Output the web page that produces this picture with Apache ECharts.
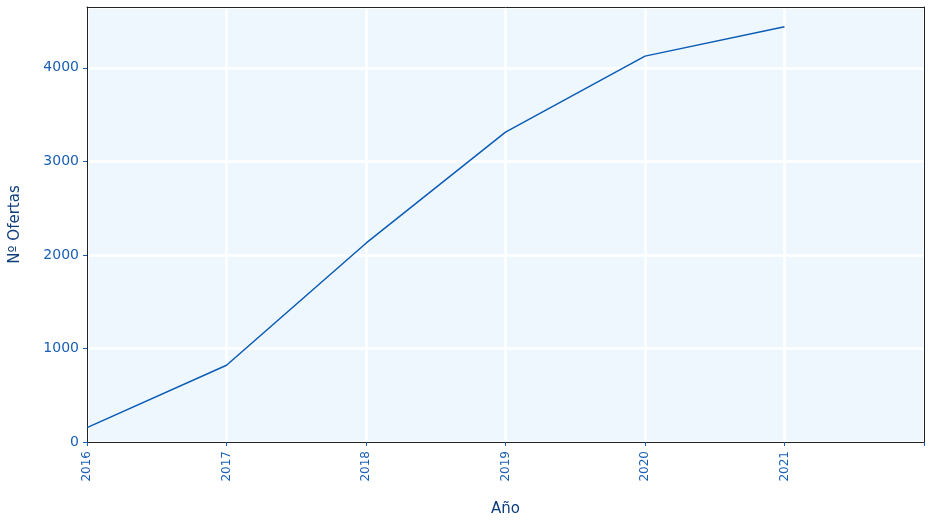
<!DOCTYPE html>
<html>
<head>
<meta charset="utf-8">
<script src="https://cdn.jsdelivr.net/npm/echarts@6/dist/echarts.min.js"></script>
<style>html,body{margin:0;padding:0;background:#fff}#c{width:931px;height:524px}</style>
</head>
<body>
<div id="c"></div>
<script>
const years = [2016, 2017, 2018, 2019, 2020, 2021];
const ofertas = [154, 820, 2125, 3312, 4125, 4438];
const yTicks = [0, 1000, 2000, 3000, 4000];

const chart = echarts.init(document.getElementById('c'), null, {renderer: 'canvas'});
const font = 'DejaVu Sans';
const labelColor = '#1a5fb4';
const nameColor = '#0d3d7a';
const frame = {show: true, onZero: false, lineStyle: {color: '#222', width: 1}};
chart.setOption({
  animation: false,
  grid: {left: 87, right: 7, top: 7, bottom: 82, show: true, backgroundColor: '#eef6fe', borderWidth: 0, containLabel: false, outerBoundsMode: 'none'},
  xAxis: [{
    type: 'value', min: 2016, max: 2022, interval: 1,
    name: 'Año', nameLocation: 'middle', nameGap: 60,
    nameTextStyle: {color: nameColor, fontSize: 15, fontFamily: font},
    axisLine: frame,
    axisTick: {show: true, length: 4, lineStyle: {color: labelColor}},
    axisLabel: {color: labelColor, fontSize: 12, fontFamily: font, rotate: 90, margin: 9,
      formatter: v => years.includes(v) ? String(v) : ''},
    splitLine: {show: true, lineStyle: {color: '#ffffff', width: 2.5}},
    z: 5
  }, {
    type: 'value', min: 2016, max: 2022, position: 'top',
    axisLine: frame, axisTick: {show: false}, axisLabel: {show: false}, splitLine: {show: false}, z: 5
  }],
  yAxis: [{
    type: 'value', min: 0, max: 4650, interval: 1000,
    name: 'Nº Ofertas', nameLocation: 'middle', nameGap: 64, nameRotate: 90,
    nameTextStyle: {color: nameColor, fontSize: 15, fontFamily: font},
    axisLine: frame,
    axisTick: {show: true, length: 4, lineStyle: {color: labelColor}},
    axisLabel: {color: labelColor, fontSize: 14, fontFamily: font, margin: 8,
      formatter: v => yTicks.includes(v) ? String(v) : '', showMaxLabel: false},
    splitLine: {show: true, lineStyle: {color: '#ffffff', width: 2.5}},
    z: 5
  }, {
    type: 'value', min: 0, max: 4650, position: 'right',
    axisLine: frame, axisTick: {show: false}, axisLabel: {show: false}, splitLine: {show: false}, z: 5
  }],
  series: [{
    type: 'line',
    z: 10,
    data: years.map((y, i) => [y, ofertas[i]]),
    showSymbol: false,
    lineStyle: {color: '#0b5cb5', width: 1.5},
    itemStyle: {color: '#0b5cb5'}
  }]
});
</script>
</body>
</html>
